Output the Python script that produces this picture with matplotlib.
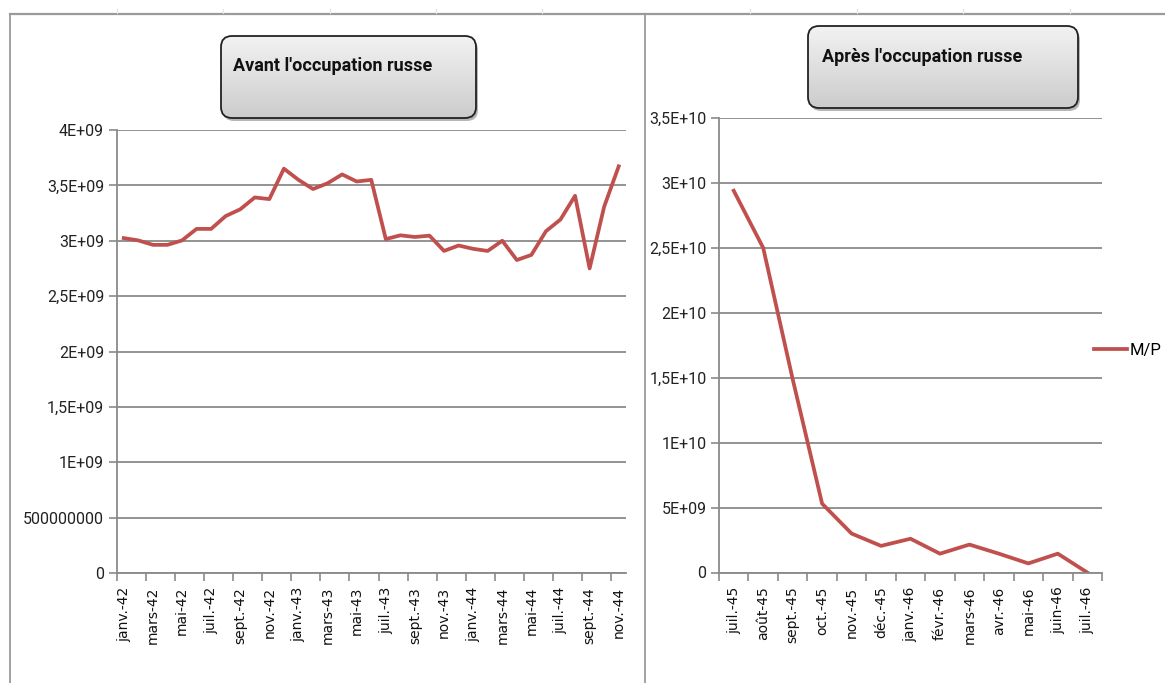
import numpy as np
import matplotlib
matplotlib.use("Agg")
import matplotlib.pyplot as plt
from matplotlib.patches import FancyBboxPatch
from matplotlib.ticker import FixedLocator

# ---------------- data ----------------
months_fr = ['janv.', 'févr.', 'mars', 'avr.', 'mai', 'juin',
             'juil.', 'août', 'sept.', 'oct.', 'nov.', 'déc.']

before_labels = [f"{months_fr[m]}-{y}" for y in (42, 43, 44) for m in range(12)][:35]
before_values = [3.024e9, 3.003e9, 2.963e9, 2.963e9, 3.003e9, 3.107e9, 3.107e9,
                 3.223e9, 3.284e9, 3.391e9, 3.376e9, 3.651e9, 3.550e9, 3.467e9,
                 3.519e9, 3.599e9, 3.535e9, 3.550e9, 3.015e9, 3.049e9, 3.034e9,
                 3.046e9, 2.908e9, 2.957e9, 2.927e9, 2.908e9, 3.000e9, 2.826e9,
                 2.872e9, 3.086e9, 3.192e9, 3.406e9, 2.750e9, 3.308e9, 3.672e9]

after_labels = ['juil.-45', 'août-45', 'sept.-45', 'oct.-45', 'nov.-45', 'déc.-45',
                'janv.-46', 'févr.-46', 'mars-46', 'avr.-46', 'mai-46', 'juin-46',
                'juil.-46']
after_values = [2.94e10, 2.50e10, 1.49e10, 5.3e9, 3.0e9, 2.05e9, 2.6e9, 1.45e9,
                2.15e9, 1.45e9, 0.7e9, 1.45e9, 0.0]

left_yticks = [0, 5e8, 1e9, 1.5e9, 2e9, 2.5e9, 3e9, 3.5e9, 4e9]
left_ytick_labels = ['0', '500000000', '1E+09', '1,5E+09', '2E+09', '2,5E+09',
                     '3E+09', '3,5E+09', '4E+09']
right_yticks = [0, 5e9, 1e10, 1.5e10, 2e10, 2.5e10, 3e10, 3.5e10]
right_ytick_labels = ['0', '5E+09', '1E+10', '1,5E+10', '2E+10', '2,5E+10',
                      '3E+10', '3,5E+10']

title_left = "Avant l'occupation russe"
title_right = "Après l'occupation russe"
legend_label = "M/P"

# ---------------- style ----------------
W, H = 1165, 683
LINE = '#C0504D'
GRID = '#8a8a8a'
NARROW = ['Roboto', 'DejaVu Sans']

fig = plt.figure(figsize=(W / 100, H / 100), dpi=100)
fig.patch.set_facecolor('white')


def px_axes(x0, y0, x1, y1):
    return fig.add_axes([x0 / W, 1 - y1 / H, (x1 - x0) / W, (y1 - y0) / H])


def style_axis(ax):
    for s in ['top', 'right']:
        ax.spines[s].set_visible(False)
    for s in ['left', 'bottom']:
        ax.spines[s].set_color(GRID)
        ax.spines[s].set_linewidth(1.3)
    ax.grid(axis='y', color=GRID, linewidth=1.3)
    ax.set_axisbelow(True)
    ax.tick_params(axis='y', which='major', direction='out', length=6, width=1.2,
                   color=GRID, labelsize=11.5, pad=3, labelcolor='#222222')
    for t in ax.get_yticklabels():
        t.set_family(NARROW)


# ---------------- left chart ----------------
axL = px_axes(116.5, 130, 626, 573)
n = len(before_values)
xL = np.arange(n)
axL.plot(xL, before_values, color=LINE, linewidth=2.7, solid_joinstyle='round')
axL.set_xlim(-0.5, n - 0.5)
axL.set_ylim(0, 4e9)
axL.set_yticks(left_yticks)
axL.set_yticklabels(left_ytick_labels)
style_axis(axL)
axL.xaxis.set_major_locator(FixedLocator(np.arange(-0.5, n, 2)))
axL.set_xticklabels([])
axL.tick_params(axis='x', which='major', direction='out', length=6, width=1.2, color=GRID)
axL.xaxis.set_minor_locator(FixedLocator(xL[::2]))
axL.set_xticklabels(before_labels[::2], minor=True, rotation=90, fontsize=10,
                    color='#111111')
axL.tick_params(axis='x', which='minor', length=0, pad=10)

# ---------------- right chart ----------------
axR = px_axes(719, 118, 1102, 572.5)
m = len(after_values)
xR = np.arange(m)
axR.plot(xR, after_values, color=LINE, linewidth=2.7, solid_joinstyle='round',
         label=legend_label)
axR.set_xlim(-0.5, m - 0.5)
axR.set_ylim(0, 3.5e10)
axR.set_yticks(right_yticks)
axR.set_yticklabels(right_ytick_labels)
style_axis(axR)
axR.xaxis.set_major_locator(FixedLocator(np.arange(-0.5, m, 1)))
axR.set_xticklabels([])
axR.tick_params(axis='x', which='major', direction='out', length=6, width=1.2, color=GRID)
axR.xaxis.set_minor_locator(FixedLocator(xR))
axR.set_xticklabels(after_labels, minor=True, rotation=90, fontsize=10, color='#111111')
axR.tick_params(axis='x', which='minor', length=0, pad=10)

# legend
fig.legend(loc='center left', bbox_to_anchor=(1087 / W, 1 - 350 / H),
           frameon=False, handlelength=2.0, handletextpad=0.15,
           prop={'family': NARROW, 'size': 12}, borderaxespad=0)

# ---------------- overlay: frame lines and title boxes ----------------
ov = fig.add_axes([0, 0, 1, 1], zorder=10)
ov.set_xlim(0, W)
ov.set_ylim(H, 0)
ov.axis('off')
ov.patch.set_alpha(0)

ov.plot([10, W], [13.5, 13.5], color='#9a9a9a', linewidth=1.6)
ov.plot([10, 10], [13.5, H], color='#9a9a9a', linewidth=1.3)
ov.plot([644.5, 644.5], [13.5, H], color='#9a9a9a', linewidth=1.3)
for xx in (117, 223, 330, 436, 542, 750, 857, 963, 1070):
    ov.plot([xx, xx], [9, 13], color='#e4e4e4', linewidth=0.8)


def title_box(x0, y0, x1, y1, text, tx, ty):
    sh = FancyBboxPatch((x0 + 2, y0 + 3), x1 - x0, y1 - y0,
                        boxstyle='round,pad=0,rounding_size=11',
                        facecolor='#6f6f6f', edgecolor='none', alpha=0.5, zorder=1)
    ov.add_patch(sh)
    box = FancyBboxPatch((x0, y0), x1 - x0, y1 - y0,
                         boxstyle='round,pad=0,rounding_size=11',
                         facecolor='none', edgecolor='#222222', linewidth=1.3, zorder=3)
    ov.add_patch(box)
    grad = np.linspace(0.95, 0.80, 100).reshape(-1, 1)
    img = ov.imshow(np.dstack([grad, grad, grad]), extent=(x0, x1, y1, y0),
                    aspect='auto', zorder=2, interpolation='bicubic')
    img.set_clip_path(box)
    ov.text(tx, ty, text, ha='left', va='center', fontsize=13, fontweight='bold',
            family=NARROW, color='#111111', zorder=4)


title_box(221, 36, 476, 118, title_left, 233, 66)
title_box(808, 26, 1078, 108, title_right, 822, 57)
ov.set_xlim(0, W)
ov.set_ylim(H, 0)

fig.savefig('out.png', dpi=100, facecolor='white')
